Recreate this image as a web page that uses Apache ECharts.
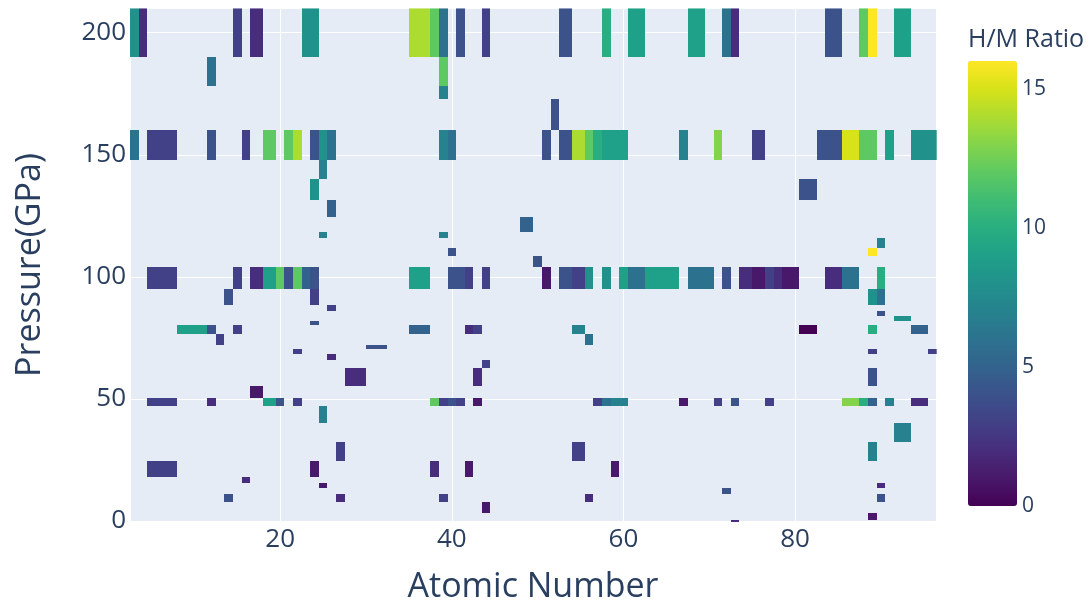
<!DOCTYPE html>
<html>
<head>
<meta charset="utf-8">
<script src="https://cdn.jsdelivr.net/npm/echarts@6/dist/echarts.min.js"></script>
<style>
  html, body { margin: 0; padding: 0; background: #ffffff; }
  #chart { width: 1090px; height: 602px; }
</style>
</head>
<body>
<div id="chart"></div>
<script>
// Column coordinates of the grid (atomic numbers that appear in the dataset)
const atomicNumbers = [3, 4, 5, 11, 12, 13, 14, 15, 16, 17, 19, 20, 21, 22, 23, 24, 25, 26, 27, 28,
  32, 33, 37, 38, 39, 40, 41, 42, 43, 44, 45, 46, 47, 49, 50, 51, 52, 53, 55, 56, 57, 58, 59, 60,
  61, 62, 63, 64, 65, 66, 67, 68, 69, 70, 71, 72, 73, 74, 76, 77, 78, 79, 80, 81, 82, 83, 84, 85,
  86, 87, 88, 89, 90, 91, 92, 93, 94, 95, 96];

// Row coordinates of the grid (pressures in GPa)
const pressures = [0, 1, 6, 10, 12, 15, 16, 20, 29, 36, 44, 50, 51, 60, 65, 67, 70, 71, 73, 80,
  81, 83, 85, 87, 90, 100, 108, 109, 115, 117, 120, 129, 134, 146, 150, 170, 176, 180, 200];

// [atomic number, pressure (GPa), H/M ratio]
const cellsHigh = [
  [3, 200, 8], [4, 200, 2], [15, 200, 3], [17, 200, 2], [23, 200, 8], [24, 200, 8],
  [37, 200, 14], [38, 200, 12], [39, 200, 6], [41, 200, 4], [44, 200, 3], [53, 200, 4],
  [58, 200, 10], [61, 200, 9], [62, 200, 9], [68, 200, 9], [69, 200, 9], [72, 200, 6],
  [73, 200, 2], [84, 200, 4], [85, 200, 4], [88, 200, 12], [89, 200, 16], [92, 200, 9], [93, 200, 9],
  [12, 180, 6], [39, 180, 12],
  [39, 176, 7],
  [52, 170, 4],
  [3, 150, 6], [5, 150, 3], [12, 150, 4], [16, 150, 3], [19, 150, 12], [21, 150, 12],
  [22, 150, 14], [24, 150, 4], [25, 150, 8], [26, 150, 6], [39, 150, 7], [40, 150, 6],
  [51, 150, 4], [53, 150, 4], [55, 150, 14], [56, 150, 12], [57, 150, 10], [58, 150, 9],
  [59, 150, 9], [60, 150, 9], [67, 150, 7], [71, 150, 13], [76, 150, 3], [83, 150, 4],
  [84, 150, 4], [85, 150, 4], [86, 150, 15], [87, 150, 15], [88, 150, 12], [89, 150, 12],
  [91, 150, 9], [94, 150, 8], [95, 150, 8], [96, 150, 8],
  [25, 146, 7]
];

const cellsMid = [
  [24, 134, 8], [81, 134, 4], [82, 134, 4],
  [26, 129, 5],
  [49, 120, 5],
  [25, 117, 7], [39, 117, 7],
  [90, 115, 7],
  [40, 109, 4], [89, 109, 16],
  [50, 108, 4],
  [5, 100, 3], [15, 100, 3], [17, 100, 2], [19, 100, 9], [20, 100, 12], [21, 100, 4],
  [22, 100, 12], [23, 100, 5], [24, 100, 4], [37, 100, 9], [40, 100, 4], [41, 100, 4],
  [42, 100, 3], [44, 100, 3], [51, 100, 1], [53, 100, 4], [55, 100, 3], [56, 100, 8],
  [58, 100, 8], [60, 100, 9], [61, 100, 6], [62, 100, 6], [63, 100, 9], [64, 100, 9],
  [65, 100, 9], [66, 100, 9], [68, 100, 6], [69, 100, 6], [70, 100, 6], [72, 100, 4],
  [74, 100, 2], [76, 100, 1], [77, 100, 3], [78, 100, 2], [79, 100, 1], [80, 100, 1],
  [84, 100, 2], [85, 100, 2], [86, 100, 6], [87, 100, 6], [90, 100, 10]
];

const cellsLow = [
  [14, 90, 4], [24, 90, 3], [89, 90, 8], [90, 90, 6],
  [26, 87, 3],
  [90, 85, 4],
  [92, 83, 8], [93, 83, 8],
  [24, 81, 4],
  [11, 80, 9], [12, 80, 4], [15, 80, 3], [37, 80, 5], [42, 80, 2], [43, 80, 3], [55, 80, 7],
  [81, 80, 0], [82, 80, 0], [89, 80, 10], [94, 80, 5], [95, 80, 5],
  [13, 73, 3], [56, 73, 6],
  [32, 71, 4],
  [22, 70, 3], [89, 70, 3], [96, 70, 3],
  [26, 67, 2],
  [44, 65, 3],
  [28, 60, 2], [43, 60, 2], [89, 60, 4],
  [17, 51, 1],
  [5, 50, 3], [12, 50, 2], [19, 50, 9], [20, 50, 4], [22, 50, 3], [38, 50, 12], [39, 50, 3],
  [40, 50, 4], [41, 50, 3], [43, 50, 1], [57, 50, 3], [58, 50, 6], [59, 50, 7], [60, 50, 7],
  [67, 50, 1], [71, 50, 3], [73, 50, 4], [77, 50, 3], [86, 50, 13], [87, 50, 13], [88, 50, 10],
  [89, 50, 5], [91, 50, 7], [94, 50, 2], [95, 50, 2],
  [25, 44, 7],
  [92, 36, 7], [93, 36, 7],
  [27, 29, 3], [55, 29, 3], [89, 29, 7],
  [5, 20, 3], [24, 20, 1], [38, 20, 2], [42, 20, 1], [59, 20, 1],
  [16, 16, 2],
  [25, 15, 1], [90, 15, 2],
  [72, 12, 4],
  [14, 10, 4], [27, 10, 2], [39, 10, 3], [56, 10, 2], [90, 10, 4],
  [44, 6, 1],
  [89, 1, 1],
  [73, 0, 2]
];

const ratioRange = [0, 16];
const ratioTicks = [0, 5, 10, 15];

// Viridis colour scale
const viridis = ['#440154', '#48186a', '#472d7b', '#424086', '#3b528b', '#33638d', '#2c728e',
  '#26828e', '#21918c', '#1fa088', '#28ae80', '#3fbc73', '#5ec962', '#84d44b', '#addc30',
  '#d8e219', '#fde725'];

// Brick edges sit halfway between neighbouring coordinates
function edgesOf(vals) {
  const n = vals.length;
  const e = [vals[0] - (vals[1] - vals[0]) / 2];
  for (let i = 0; i < n - 1; i++) e.push((vals[i] + vals[i + 1]) / 2);
  e.push(vals[n - 1] + (vals[n - 1] - vals[n - 2]) / 2);
  return e;
}
const xEdges = edgesOf(atomicNumbers);
const yEdges = edgesOf(pressures);

const cells = cellsHigh.concat(cellsMid, cellsLow);

const FONT = '"Open Sans", "DejaVu Sans", sans-serif';
const INK = '#2a3f5f';

const PLOT = { left: 130, top: 8.3, width: 806.7, height: 514 };
const BAR = { left: 968, top: 61, width: 49, height: 445 };

const chart = echarts.init(document.getElementById('chart'), null, { renderer: 'canvas' });

chart.setOption({
  backgroundColor: '#ffffff',
  animation: false,
  grid: [
    {
      left: PLOT.left, top: PLOT.top, width: PLOT.width, height: PLOT.height,
      show: true, backgroundColor: '#e5ecf6', borderWidth: 0, containLabel: false
    },
    {
      left: BAR.left, top: BAR.top, width: BAR.width, height: BAR.height,
      show: false, containLabel: false
    }
  ],
  xAxis: [
    {
      type: 'value', gridIndex: 0,
      min: xEdges[0], max: xEdges[xEdges.length - 1],
      splitNumber: 5,
      axisLine: { show: false }, axisTick: { show: false },
      splitLine: { show: true, lineStyle: { color: '#ffffff', width: 1 } },
      axisLabel: {
        color: INK, fontFamily: FONT, fontSize: 26, margin: 4,
        showMinLabel: false, showMaxLabel: false
      }
    },
    {
      type: 'value', gridIndex: 1, min: 0, max: 1, show: false
    }
  ],
  yAxis: [
    {
      type: 'value', gridIndex: 0,
      min: yEdges[0], max: yEdges[yEdges.length - 1],
      splitNumber: 5,
      axisLine: { show: false }, axisTick: { show: false },
      splitLine: { show: true, lineStyle: { color: '#ffffff', width: 1 } },
      axisLabel: {
        color: INK, fontFamily: FONT, fontSize: 26, margin: 4,
        showMinLabel: false, showMaxLabel: false
      }
    },
    {
      type: 'value', gridIndex: 1, position: 'right',
      min: ratioRange[0], max: ratioRange[1], interval: 5,
      axisLine: { show: false }, axisTick: { show: false }, splitLine: { show: false },
      axisLabel: {
        color: INK, fontFamily: FONT, fontSize: 21, margin: 5,
        showMaxLabel: false,
        formatter: (v) => (ratioTicks.indexOf(v) >= 0 ? String(v) : '')
      }
    }
  ],
  visualMap: {
    type: 'continuous',
    seriesIndex: 0,
    dimension: 2,
    min: ratioRange[0], max: ratioRange[1],
    calculable: false,
    hoverLink: false,
    left: BAR.left, top: BAR.top,
    itemWidth: BAR.width, itemHeight: BAR.height,
    padding: 0,
    text: null,
    showLabel: false,
    inRange: { color: viridis }
  },
  graphic: [
    {
      type: 'text', x: 533, y: 587,
      style: { text: 'Atomic Number', font: '34px ' + FONT, fill: INK, textAlign: 'center', textVerticalAlign: 'middle' }
    },
    {
      type: 'text', x: 30, y: 265, rotation: Math.PI / 2,
      style: { text: 'Pressure(GPa)', font: '34px ' + FONT, fill: INK, textAlign: 'center', textVerticalAlign: 'middle' }
    },
    {
      type: 'text', x: 968, y: 40,
      style: { text: 'H/M Ratio', font: '25px ' + FONT, fill: INK, textAlign: 'left', textVerticalAlign: 'middle' }
    }
  ],
  series: [
    {
      type: 'custom',
      xAxisIndex: 0, yAxisIndex: 0,
      clip: true,
      encode: { x: 0, y: 1 },
      data: cells,
      renderItem: function (params, api) {
        const xi = atomicNumbers.indexOf(api.value(0));
        const yi = pressures.indexOf(api.value(1));
        const topLeft = api.coord([xEdges[xi], yEdges[yi + 1]]);
        const bottomRight = api.coord([xEdges[xi + 1], yEdges[yi]]);
        // snap to whole pixels so neighbouring bricks meet without seams
        const x0 = Math.round(topLeft[0]), y0 = Math.round(topLeft[1]);
        const x1 = Math.round(bottomRight[0]), y1 = Math.round(bottomRight[1]);
        const shape = echarts.graphic.clipRectByRect(
          { x: x0, y: y0, width: x1 - x0, height: y1 - y0 },
          { x: params.coordSys.x, y: params.coordSys.y, width: params.coordSys.width, height: params.coordSys.height }
        );
        if (!shape) return null;
        return { type: 'rect', shape: shape, style: { fill: api.visual('color'), stroke: null } };
      }
    },
    {
      type: 'line', xAxisIndex: 1, yAxisIndex: 1, data: [], silent: true
    }
  ]
});
</script>
</body>
</html>
